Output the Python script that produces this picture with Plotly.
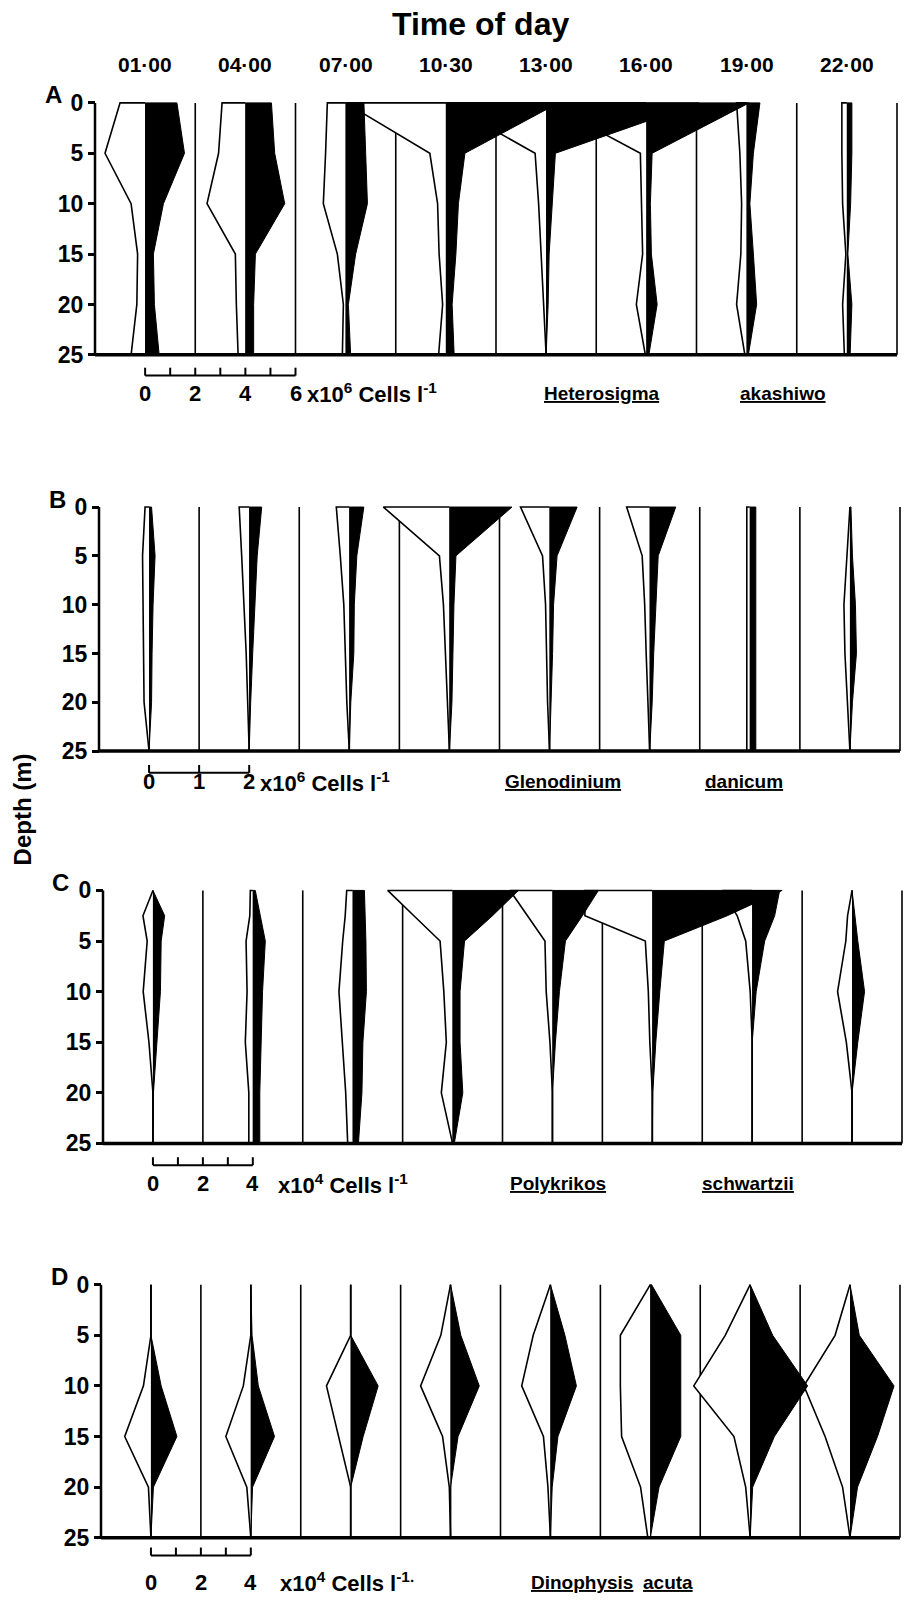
import plotly.graph_objects as go

W, H = 904, 1604

# ---- data ---------------------------------------------------------------
times = ["01·00", "04·00", "07·00", "10·30", "13·00", "16·00", "19·00", "22·00"]
depths = [0, 5, 10, 15, 20, 25]
depths_c = [0, 2.5, 5, 10, 15, 20, 25]

# Heterosigma akashiwo, x10^6 cells l-1 (open half / filled half of each kite)
het_open = [
    [1.0, 1.6, 0.56, 0.3, 0.33, 0.56],
    [0.93, 1.07, 1.53, 0.4, 0.36, 0.29],
    [0.73, 0.8, 0.89, 0.33, 0.09, 0.13],
    [4.0, 0.64, 0.33, 0.27, 0.13, 0.29],
    [4.0, 0.44, 0.3, 0.2, 0.1, 0.0],
    [4.0, 0.24, 0.2, 0.15, 0.4, 0.04],
    [0.4, 0.27, 0.2, 0.23, 0.4, 0.07],
    [0.2, 0.2, 0.17, 0.04, 0.17, 0.1],
]
het_filled = [
    [1.27, 1.57, 0.73, 0.33, 0.37, 0.56],
    [1.04, 1.17, 1.57, 0.4, 0.33, 0.33],
    [0.73, 0.8, 0.87, 0.4, 0.11, 0.2],
    [4.5, 0.76, 0.5, 0.4, 0.25, 0.33],
    [6.1, 0.37, 0.24, 0.12, 0.08, 0.0],
    [4.1, 0.23, 0.16, 0.2, 0.43, 0.1],
    [0.53, 0.27, 0.13, 0.27, 0.4, 0.07],
    [0.2, 0.2, 0.15, 0.04, 0.2, 0.13],
]

# Glenodinium danicum, x10^6 cells l-1
glen_open = [
    [0.08, 0.13, 0.12, 0.1, 0.1, 0.0],
    [0.2, 0.15, 0.1, 0.06, 0.03, 0.0],
    [0.26, 0.18, 0.11, 0.08, 0.05, 0.0],
    [1.32, 0.2, 0.12, 0.08, 0.04, 0.0],
    [0.58, 0.14, 0.08, 0.06, 0.04, 0.0],
    [0.46, 0.15, 0.1, 0.07, 0.04, 0.0],
    [0.06, 0.06, 0.06, 0.06, 0.06, 0.06],
    [0.0, 0.06, 0.12, 0.1, 0.05, 0.0],
]
glen_filled = [
    [0.05, 0.12, 0.08, 0.06, 0.05, 0.0],
    [0.25, 0.16, 0.11, 0.07, 0.03, 0.0],
    [0.29, 0.15, 0.1, 0.09, 0.03, 0.0],
    [1.25, 0.13, 0.09, 0.07, 0.05, 0.0],
    [0.55, 0.15, 0.08, 0.06, 0.03, 0.0],
    [0.52, 0.17, 0.12, 0.08, 0.05, 0.0],
    [0.12, 0.12, 0.12, 0.12, 0.12, 0.12],
    [0.02, 0.05, 0.11, 0.13, 0.05, 0.0],
]

# Polykrikos schwartzii, x10^4 cells l-1 (sampled at 2.5 m as well)
poly_open = [
    [0.0, 0.4, 0.23, 0.39, 0.16, 0.0, 0.0],
    [0.1, 0.12, 0.27, 0.23, 0.3, 0.16, 0.16],
    [0.24, 0.3, 0.4, 0.55, 0.4, 0.28, 0.2],
    [2.6, 1.55, 0.5, 0.35, 0.25, 0.45, 0.0],
    [1.7, 1.0, 0.3, 0.25, 0.1, 0.0, 0.0],
    [2.7, 2.7, 0.28, 0.16, 0.1, 0.0, 0.0],
    [1.2, 0.6, 0.26, 0.08, 0.0, 0.0, 0.0],
    [0.0, 0.18, 0.25, 0.58, 0.23, 0.0, 0.0],
]
poly_filled = [
    [0.0, 0.47, 0.33, 0.3, 0.16, 0.02, 0.0],
    [0.1, 0.3, 0.5, 0.39, 0.35, 0.28, 0.28],
    [0.47, 0.5, 0.53, 0.55, 0.41, 0.37, 0.23],
    [2.64, 1.6, 0.48, 0.3, 0.3, 0.41, 0.07],
    [1.84, 1.2, 0.52, 0.28, 0.12, 0.0, 0.0],
    [5.2, 3.0, 0.48, 0.3, 0.14, 0.02, 0.0],
    [1.1, 0.9, 0.5, 0.16, 0.0, 0.0, 0.0],
    [0.0, 0.1, 0.23, 0.5, 0.23, 0.0, 0.0],
]

# Dinophysis acuta, x10^4 cells l-1
dino_open = [
    [0.0, 0.0, 0.3, 1.05, 0.1, 0.0],
    [0.0, 0.0, 0.3, 1.0, 0.16, 0.0],
    [0.0, 0.0, 0.97, 0.5, 0.0, 0.0],
    [0.0, 0.39, 1.2, 0.32, 0.05, 0.0],
    [0.0, 0.69, 1.15, 0.28, 0.1, 0.0],
    [0.0, 1.2, 1.2, 1.15, 0.39, 0.1],
    [0.0, 1.0, 2.26, 0.65, 0.18, 0.0],
    [0.0, 0.6, 1.85, 1.0, 0.3, 0.0],
]
dino_filled = [
    [0.0, 0.0, 0.41, 1.04, 0.1, 0.0],
    [0.0, 0.05, 0.3, 0.95, 0.07, 0.0],
    [0.0, 0.0, 1.1, 0.5, 0.0, 0.0],
    [0.0, 0.41, 1.15, 0.3, 0.0, 0.0],
    [0.0, 0.58, 1.04, 0.3, 0.07, 0.0],
    [0.05, 1.22, 1.22, 1.22, 0.35, 0.0],
    [0.0, 0.9, 2.3, 0.97, 0.1, 0.0],
    [0.0, 0.37, 1.76, 1.1, 0.3, 0.0],
]

depth_ticks = [0, 5, 10, 15, 20, 25]
scale_ticks_a, scale_labels_a = [0, 1, 2, 3, 4, 5, 6], [0, 2, 4, 6]
scale_ticks_b, scale_labels_b = [0, 1, 2], [0, 1, 2]
scale_ticks_c, scale_labels_c = [0, 1, 2, 3, 4], [0, 2, 4]
scale_ticks_d, scale_labels_d = [0, 1, 2, 3, 4], [0, 2, 4]

# ---- layout helpers -----------------------------------------------------
FONT = "Liberation Sans, Arial, sans-serif"


def px_x(x):
    return x / W


def px_y(y):
    return 1 - y / H


panels = [
    dict(letter="A", open=het_open, filled=het_filled, depths=depths, step=4,
         box=(95, 897, 95, 350), ticks=scale_ticks_a, labels=scale_labels_a,
         bar_y=371, lab_y=389, unit_x=305, unit="x10<sup>6</sup> Cells l<sup>-1</sup>",
         species=[("Heterosigma", 542), ("akashiwo", 738)]),
    dict(letter="B", open=glen_open, filled=glen_filled, depths=depths, step=2,
         box=(99, 900, 504, 751), ticks=scale_ticks_b, labels=scale_labels_b,
         bar_y=773, lab_y=782, unit_x=258, unit="x10<sup>6</sup> Cells l<sup>-1</sup>",
         species=[("Glenodinium", 503), ("danicum", 703)]),
    dict(letter="C", open=poly_open, filled=poly_filled, depths=depths_c, step=4,
         box=(103, 902, 892, 1148), ticks=scale_ticks_c, labels=scale_labels_c,
         bar_y=1170, lab_y=1189, unit_x=276, unit="x10<sup>4</sup> Cells l<sup>-1</sup>",
         species=[("Polykrikos", 508), ("schwartzii", 700)]),
    dict(letter="D", open=dino_open, filled=dino_filled, depths=depths, step=4,
         box=(101, 900, 1291, 1547), ticks=scale_ticks_d, labels=scale_labels_d,
         bar_y=1565, lab_y=1592, unit_x=278, unit="x10<sup>4</sup> Cells l<sup>-1.</sup>",
         species=[("Dinophysis", 529), ("acuta", 641)]),
]

fig = go.Figure()
shapes, annotations = [], []
layout_axes = {}
PAD = 0.35  # metres of breathing room above 0 m and below 25 m

for k, p in enumerate(panels, start=1):
    xs = "x" if k == 1 else f"x{k}"
    ys = "y" if k == 1 else f"y{k}"
    xa_name = "xaxis" if k == 1 else f"xaxis{k}"
    ya_name = "yaxis" if k == 1 else f"yaxis{k}"
    x0, x1, y0, y25 = p["box"]
    s = p["step"]
    ppm = (y25 - y0) / 25.0
    xlo, xhi = -0.5 * s, 7.5 * s
    ppu = (x1 - x0) / (xhi - xlo)
    xpad = 2.0 / ppu
    layout_axes[xa_name] = dict(
        domain=[px_x(x0 - 2), px_x(x1 + 2)], range=[xlo - xpad, xhi + xpad],
        visible=False, anchor=ys, fixedrange=True)
    layout_axes[ya_name] = dict(
        domain=[px_y(y25 + PAD * ppm), px_y(y0 - PAD * ppm)],
        range=[25 + PAD, -PAD], anchor="free", position=px_x(x0),
        tickvals=depth_ticks, ticktext=[str(t) for t in depth_ticks],
        ticks="outside", ticklen=7, tickwidth=2.5, tickcolor="black",
        showline=False, showgrid=False, zeroline=False,
        tickfont=dict(family=FONT, size=23, color="black", weight="bold"),
        fixedrange=True)

    # station lines and the half-way lines between stations
    for i in range(8):
        for xv in (s * i, s * (i + 0.5)):
            shapes.append(dict(type="line", xref=xs, yref=ys, x0=xv, x1=xv, y0=0, y1=25,
                               line=dict(color="black", width=1.6), layer="below"))
    # depth axis line and bottom rule
    shapes.append(dict(type="line", xref=xs, yref=ys, x0=xlo, x1=xlo, y0=0, y1=25,
                       line=dict(color="black", width=2.5)))
    shapes.append(dict(type="line", xref=xs, yref=ys, x0=xlo, x1=xhi, y0=25, y1=25,
                       line=dict(color="black", width=3.5)))

    # kites: open halves first, filled halves on top
    dl = p["depths"]
    for i in range(8):
        c = s * i
        xo = [c] + [c - v for v in p["open"][i]] + [c]
        yo = [dl[0]] + dl + [dl[-1]]
        fig.add_trace(go.Scatter(x=xo, y=yo, xaxis=xs, yaxis=ys, mode="lines",
                                 fill="toself", fillcolor="white",
                                 line=dict(color="black", width=1.6),
                                 hoverinfo="skip", showlegend=False))
    for i in range(8):
        c = s * i
        xf = [c] + [c + v for v in p["filled"][i]] + [c]
        yf = [dl[0]] + dl + [dl[-1]]
        fig.add_trace(go.Scatter(x=xf, y=yf, xaxis=xs, yaxis=ys, mode="lines",
                                 fill="toself", fillcolor="black",
                                 line=dict(color="black", width=1),
                                 hoverinfo="skip", showlegend=False))

    # panel letter
    annotations.append(dict(text=f"<b>{p['letter']}</b>", xref="paper", yref="paper",
                            x=px_x(x0 - 42), y=px_y(y0 - 8), xanchor="center",
                            yanchor="middle", showarrow=False,
                            font=dict(family=FONT, size=24, color="black")))

    # scale bar drawn in the panel's own x units
    by = px_y(p["bar_y"])
    bt = px_y(p["bar_y"] - 8)
    shapes.append(dict(type="line", xref=xs, yref="paper", x0=p["ticks"][0],
                       x1=p["ticks"][-1], y0=by, y1=by,
                       line=dict(color="black", width=2)))
    for t in p["ticks"]:
        shapes.append(dict(type="line", xref=xs, yref="paper", x0=t, x1=t, y0=by, y1=bt,
                           line=dict(color="black", width=2)))
    for t in p["labels"]:
        annotations.append(dict(text=f"<b>{t}</b>", xref=xs, yref="paper", x=t,
                                y=px_y(p["lab_y"]), xanchor="center", yanchor="middle",
                                showarrow=False,
                                font=dict(family=FONT, size=22, color="black")))
    annotations.append(dict(text=f"<b>{p['unit']}</b>", xref="paper", yref="paper",
                            x=px_x(p["unit_x"]), y=px_y(p["lab_y"]), xanchor="left",
                            yanchor="middle", showarrow=False,
                            font=dict(family=FONT, size=22, color="black")))
    for name, sx in p["species"]:
        annotations.append(dict(
            text=f'<b><span style="text-decoration:underline">{name}</span></b>',
            xref="paper", yref="paper", x=px_x(sx), y=px_y(p["lab_y"]),
            xanchor="left", yanchor="middle", showarrow=False,
            font=dict(family=FONT, size=19, color="black")))

# time-of-day labels over the top panel's stations
for i, t in enumerate(times):
    annotations.append(dict(text=f"<b>{t}</b>", xref="x", yref="paper", x=4 * i,
                            y=px_y(56), xanchor="center", yanchor="middle",
                            showarrow=False,
                            font=dict(family=FONT, size=21, color="black")))
annotations.append(dict(text="<b>Time of day</b>", xref="paper", yref="paper",
                        x=px_x(481), y=px_y(15), xanchor="center", yanchor="middle",
                        showarrow=False, font=dict(family=FONT, size=32, color="black")))
annotations.append(dict(text="<b>Depth (m)</b>", xref="paper", yref="paper",
                        x=px_x(22), y=px_y(810), xanchor="center", yanchor="middle",
                        textangle=-90, showarrow=False,
                        font=dict(family=FONT, size=24, color="black")))

fig.update_layout(
    width=W, height=H, margin=dict(l=0, r=0, t=0, b=0),
    paper_bgcolor="white", plot_bgcolor="rgba(0,0,0,0)",
    showlegend=False, shapes=shapes, annotations=annotations, **layout_axes)

fig.write_html("out.html", config=dict(displayModeBar=False))
